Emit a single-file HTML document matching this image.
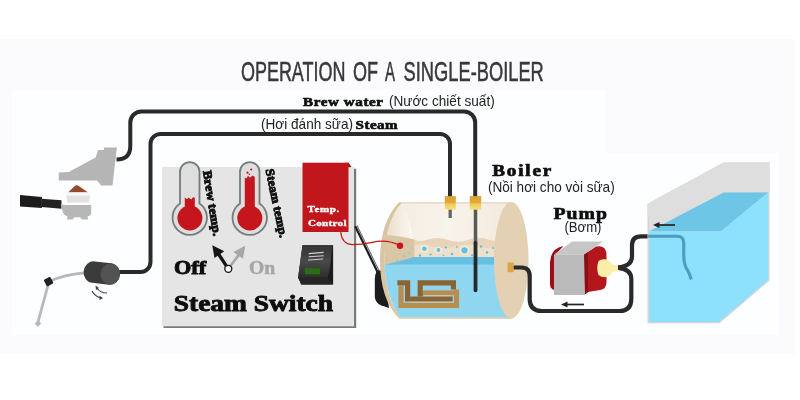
<!DOCTYPE html>
<html><head><meta charset="utf-8">
<style>
html,body{margin:0;padding:0;background:#fff;}
body{width:800px;height:400px;overflow:hidden;font-family:"Liberation Sans",sans-serif;}
svg{display:block;will-change:transform;}
.sf{font-family:"Liberation Serif",serif;font-weight:bold;}
.ss{font-family:"Liberation Sans",sans-serif;}
.hv{stroke:#111;stroke-width:0.65;paint-order:stroke;}
.hv2{stroke:#111;stroke-width:0.9;paint-order:stroke;}
</style></head><body>
<svg width="800" height="400" viewBox="0 0 800 400">
<defs><linearGradient id="rockg" x1="0" x2="0" y1="0" y2="1"><stop offset="0" stop-color="#343434"/><stop offset="0.5" stop-color="#484848"/><stop offset="1" stop-color="#2e2e2e"/></linearGradient><filter id="soft" x="0" y="0" width="800" height="400" filterUnits="userSpaceOnUse"><feGaussianBlur stdDeviation="0.35"/></filter></defs>
<!-- backgrounds -->
<rect x="0" y="0" width="800" height="400" fill="#ffffff"/>
<rect x="0" y="39" width="795" height="314.5" fill="#fbfbfe"/>
<rect x="12" y="90" width="593" height="245" fill="#fdfeff"/>
<rect x="604" y="153.5" width="175" height="181.5" fill="#fdfeff"/>

<g filter="url(#soft)">
<!-- title -->
<g class="ss" font-size="27.4" fill="#38383c" stroke="#38383c" stroke-width="0.55">
<text x="241" y="81.3" textLength="104.4" lengthAdjust="spacingAndGlyphs">OPERATION</text>
<text x="353" y="81.3" textLength="25" lengthAdjust="spacingAndGlyphs">OF</text>
<text x="385" y="81.3" textLength="10" lengthAdjust="spacingAndGlyphs">A</text>
<text x="403.6" y="81.3" textLength="140.2" lengthAdjust="spacingAndGlyphs">SINGLE-BOILER</text>
</g>

<!-- pipes top -->
<g fill="none" stroke="#2c2c2c" stroke-width="4" stroke-linecap="butt">
<path d="M116.500 159.500 Q130.300 159.500 130.300 146 L130.300 122.500 A11 11 0 0 1 141.300 111.500 L464.200 111.500 A11 11 0 0 1 475.200 122.500 L475.200 197"/>
<path d="M119 272 L140.500 272 A10 10 0 0 0 150.500 262 L150.500 144 A10 10 0 0 1 160.500 134 L440 134 A10 10 0 0 1 450 144 L450 197"/>
</g>

<!-- labels -->
<text transform="translate(303 105.6) scale(1.16 1)" class="sf hv" font-size="13" fill="#111" textLength="69" lengthAdjust="spacing">Brew water</text>
<text x="389" y="105.800" class="ss" font-size="14.600" fill="#222" textLength="105.700" lengthAdjust="spacingAndGlyphs">(Nước chiết suất)</text>
<text x="261" y="129.200" class="ss" font-size="14.600" fill="#222" textLength="92" lengthAdjust="spacingAndGlyphs">(Hơi đánh sữa)</text>
<text transform="translate(355.6 129) scale(1.16 1)" class="sf hv" font-size="13" fill="#111" textLength="36.200" lengthAdjust="spacing">Steam</text>
<text transform="translate(492.2 176.4) scale(1.18 1)" class="sf hv" font-size="16.200" fill="#111" textLength="50.100" lengthAdjust="spacing">Boiler</text>
<text x="487.900" y="192" class="ss" font-size="14.600" fill="#222" textLength="126.800" lengthAdjust="spacingAndGlyphs">(Nồi hơi cho vòi sữa)</text>
<text transform="translate(553.5 218.5) scale(1.16 1)" class="sf hv" font-size="17" fill="#111" textLength="46" lengthAdjust="spacing">Pump</text>
<text x="564.400" y="231.500" class="ss" font-size="14.600" fill="#222" textLength="37.100" lengthAdjust="spacingAndGlyphs">(Bơm)</text>

<!-- group head -->
<polygon points="104,147.500 116.900,147.500 112.500,185.600 101.250,185.600 96.900,180.600 58.750,180.600 58.750,172.500 68.750,171.900 95.600,157.500 98.100,150 104,150" fill="#b5b5b5"/>
<!-- coffee -->
<path d="M68.100 192.400 L75 185.800 Q76.250 184.800 78 185.500 L88.100 192.400 Z" fill="#94482a"/>
<!-- basket -->
<polygon points="66.250,192.300 90,192.300 90,196 66.250,196" fill="#f6f6f6"/>
<polygon points="66.250,195.800 90,195.800 89,202.500 67.250,202.500" fill="#e2e2e2"/>
<!-- portafilter -->
<polygon points="20,195 41.900,197 41.900,208 20,206.600" fill="#1d1d1d"/>
<polygon points="41.500,198.700 61.500,200.200 61.500,208.800 41.500,206.900" fill="#242424"/>
<path d="M60.600 203.800 L64 205 L91.200 205 L91.200 214 Q90 216 87.500 216.500 L88.200 219.400 L82 219.400 L80 217.300 L74.500 217.300 L72.500 219.400 L66.900 219.400 L67.500 216.500 Q63.500 215 62.500 211 Z" fill="#b7b7b7"/>

<!-- steam wand -->
<path d="M84 272.800 Q64 274.500 49 281.600 L38 322" fill="none" stroke="#b8b8b8" stroke-width="2.800"/>
<rect x="44.900" y="277.900" width="7.400" height="7.400" rx="1" fill="#222" transform="rotate(-28 48.600 281.600)"/>
<rect x="35.700" y="321.300" width="4.600" height="4.600" fill="#b8b8b8" transform="rotate(45 38 323.600)"/>
<!-- knob -->
<g transform="translate(0 1.3) rotate(6.500 102 272)">
<rect x="83.500" y="261" width="36.500" height="21.600" rx="10" ry="10.800" fill="#3a3a3a"/>
<ellipse cx="110.300" cy="271.800" rx="9.700" ry="10.600" fill="#525252"/>
</g>
<!-- rotation arrows -->
<g fill="none" stroke="#444" stroke-width="1.200">
<path d="M96.500 287.500 Q100 293 107 293"/>
<path d="M92 291 Q95 296.500 101 297.800"/>
</g>
<polygon points="95.500,285.500 99,288 96,290" fill="#444"/>
<polygon points="103,298 99.500,300 99.500,295.800" fill="#444"/>

<!-- panel -->
<rect x="163.500" y="168.700" width="192.700" height="159.300" fill="#7a7a7a"/>
<rect x="162" y="167" width="192" height="159.300" fill="#e5e5e5"/>

<!-- thermometers -->
<g id="th1">
<path d="M180 171.800 A9.750 9.750 0 0 1 199.500 171.800 L199.500 203.600 A17.200 17.200 0 1 1 180 203.600 Z" fill="#dedede" stroke="#737c7c" stroke-width="1.800"/>
<circle cx="189.900" cy="218" r="12.500" fill="#c4161c"/>
<path d="M184.800 208 L184.800 197.500 L187 199.200 L188.500 197.500 L191 199.500 L193.500 197 L194.800 198 L194.800 208 Z" fill="#c4161c"/>
</g>
<g id="th2">
<path d="M240 171.800 A9.750 9.750 0 0 1 259.500 171.800 L259.500 203.600 A17.200 17.200 0 1 1 240 203.600 Z" fill="#dedede" stroke="#737c7c" stroke-width="1.800"/>
<circle cx="249.800" cy="218" r="12.500" fill="#c4161c"/>
<path d="M244.800 208 L244.800 177.500 L246.500 178.500 L248 175.800 L250 177.800 L252.500 175.500 L254.800 177 L254.800 208 Z" fill="#c4161c"/>
<circle cx="247.500" cy="172.700" r="1.100" fill="#c4161c"/>
<circle cx="251.200" cy="169.500" r="1.100" fill="#c4161c"/>
<circle cx="249.300" cy="174.300" r="0.800" fill="#c4161c"/>
</g>
<text class="sf hv2" font-size="12.300" fill="#111" transform="translate(202.900 171.300) rotate(80.800)" textLength="66" lengthAdjust="spacingAndGlyphs">Brew temp.</text>
<text class="sf hv2" font-size="12.300" fill="#111" transform="translate(265.500 169.800) rotate(78.200)" textLength="70" lengthAdjust="spacingAndGlyphs">Steam temp.</text>

<!-- temp control -->
<polygon points="344.500,162.750 348.500,162.750 351.500,167 348.500,167.200" fill="#8f1015"/>
<rect x="302.500" y="162.750" width="46" height="69.250" fill="#c1161b"/>
<text transform="translate(307.5 212.3) scale(1.3 1)" class="sf" font-size="8.500" fill="#fff" stroke="#fff" stroke-width="0.350" textLength="24.500" lengthAdjust="spacing">Temp.</text>
<text transform="translate(308 225.600) scale(1.3 1)" class="sf" font-size="8.500" fill="#fff" stroke="#fff" stroke-width="0.350" textLength="29.600" lengthAdjust="spacing">Control</text>

<!-- switch arrows -->
<line x1="228.300" y1="268.800" x2="239.500" y2="254" stroke="#a8a8a8" stroke-width="2.700"/>
<polygon points="245.250,245.700 233.250,252 243,258.750" fill="#a8a8a8"/>
<line x1="228.300" y1="268.800" x2="218.500" y2="254" stroke="#151515" stroke-width="3.300"/>
<polygon points="212.250,245.250 214.500,258 224.250,251.250" fill="#151515"/>
<circle cx="228.300" cy="268.800" r="3.500" fill="#fff" stroke="#151515" stroke-width="1.300"/>
<text x="174" y="273.800" class="sf hv2" font-size="18.500" fill="#111" textLength="32.200" lengthAdjust="spacingAndGlyphs">Off</text>
<text x="249" y="273.800" class="sf" font-size="18.500" fill="#a6a6a6" stroke="#a6a6a6" stroke-width="0.500" textLength="26.200" lengthAdjust="spacingAndGlyphs">On</text>
<text x="173.750" y="311.250" class="sf hv2" font-size="23.800" fill="#111" textLength="159.300" lengthAdjust="spacingAndGlyphs">Steam Switch</text>

<!-- rocker switch -->
<polygon points="302.500,245.250 333.100,245.250 333.100,284.400 301.250,284.400 298.100,277.500" fill="#1d1d1d"/>
<path d="M302.500 245.250 L333.100 245.250 L331.600 250 Q330.800 268 327.500 277.500 L298.100 277.500 Z" fill="url(#rockg)"/>
<polygon points="298.100,277.500 327.500,277.500 333.100,284.400 301.250,284.400" fill="#272727"/>
<rect x="305" y="268.100" width="15" height="6.300" fill="#2b6d14"/>
<g stroke="#cfcfcf" stroke-width="1.100">
<line x1="308.750" y1="253.600" x2="323.750" y2="252.400"/>
<line x1="308.750" y1="256.800" x2="323.750" y2="255.800"/>
<line x1="308.200" y1="260" x2="323.200" y2="259"/>
</g>

<!-- probe -->
<line x1="355.200" y1="226.200" x2="378" y2="273" stroke="#1e1e1e" stroke-width="2.200"/><line x1="357" y1="225.600" x2="379.800" y2="272.300" stroke="#6d6d6d" stroke-width="1.100"/>
<path d="M377 270.500 Q374.800 274 374.800 280 L374.800 297 Q375.500 303 381 305.300 L389 308 L386 285 L381 270.500 Z" fill="#1c1c1c"/>

<!-- boiler -->
<defs>
<linearGradient id="fitg" x1="0" x2="0" y1="0" y2="1"><stop offset="0" stop-color="#dba034"/><stop offset="0.45" stop-color="#e0a838"/><stop offset="0.6" stop-color="#f0cc50"/><stop offset="1" stop-color="#f5e088"/></linearGradient>
<linearGradient id="capg" x1="0" x2="1" y1="0" y2="0"><stop offset="0" stop-color="#eadcc5"/><stop offset="0.55" stop-color="#f4ede2"/><stop offset="1" stop-color="#fcfaf6"/></linearGradient>
<linearGradient id="bodyg" x1="0" x2="1" y1="0" y2="0"><stop offset="0" stop-color="#f3ebde"/><stop offset="0.5" stop-color="#f8f3eb"/><stop offset="1" stop-color="#f3eadc"/></linearGradient>
</defs>
<g id="boiler">
<path d="M399 202.200 L511.500 202.200 L511.500 318.700 L399.500 318.700 Q380 300 380 260 Q380 222 399 202.200 Z" fill="#d9c5a4"/>
<path d="M401.500 203.300 L511.500 203.300 L511.500 317.300 L400.500 317.300 Q385 298 384.500 260 Q385 222 401.500 203.300 Z" fill="url(#bodyg)"/>
<path d="M401.500 203.300 Q385 222 384.500 260 L414.500 260 Q414 225 401.500 203.300 Z" fill="url(#capg)"/>
<rect x="401" y="202.200" width="110.500" height="1.600" fill="#ece2d2"/>
<!-- froth body -->
<path d="M414 239.500 Q420 242.500 428 239.500 Q438 236.300 448 239.800 Q458 243.500 468 240 Q478 236.500 488 239.500 Q494 241.500 497 240.500 L511.500 240.500 L511.500 262 L414 262 Z" fill="#e8d5b9"/>
<path d="M414 246 Q422 243 432 246.500 Q444 250 456 246 Q466 243 478 246.500 Q490 250 500 246 L511.500 245 L511.500 262 L414 262 Z" fill="#eedfc8"/>
<!-- froth cap -->
<path d="M384.800 235 Q400 235.500 414.300 239.500 L414.300 262 L384.500 266 Z" fill="#dac6a5"/>
<!-- water -->
<path d="M384.600 264.500 L511.500 264.500 L511.500 317.300 L400.500 317.300 Q386 298 384.600 264.500 Z" fill="#8fd6f1"/>
<polygon points="384.600,264.800 400,261 414,257 511.500,257 511.500,264.800" fill="#66c0e4"/>
<!-- bubbles -->
<g fill="#f5ebda">
<circle cx="424.400" cy="248.700" r="3.900"/><circle cx="438.500" cy="250" r="3.300"/><circle cx="464.500" cy="250.300" r="4.600"/><circle cx="487" cy="252.500" r="2.400"/>
</g>
<g fill="#5fc0e6">
<circle cx="424.400" cy="248.700" r="2.300"/><circle cx="420" cy="255.500" r="1.200"/><circle cx="430.500" cy="254.500" r="1.100"/>
<circle cx="438.500" cy="250" r="1.900"/><circle cx="446" cy="247.500" r="1.100"/><circle cx="452" cy="254" r="1.300"/>
<circle cx="464.500" cy="250.300" r="3.100"/><circle cx="481" cy="246.500" r="1.200"/><circle cx="487" cy="252.500" r="1.400"/>
<circle cx="493" cy="248" r="1"/><circle cx="472" cy="255.300" r="1.100"/><circle cx="457" cy="247" r="0.900"/>
<circle cx="443.500" cy="255.300" r="0.900"/><circle cx="498" cy="254.500" r="1"/>
</g>
<g fill="#8cc9dc">
<circle cx="404" cy="256" r="1.200"/><circle cx="409" cy="253" r="1"/><circle cx="397" cy="260.500" r="1.100"/><circle cx="412" cy="248" r="0.800"/>
</g>
<!-- right end -->
<ellipse cx="511.250" cy="260.300" rx="17.250" ry="58.200" fill="#e4d1b4"/>
<!-- heating element -->
<g fill="none" stroke-linejoin="miter">
<path d="M401 286 L401 305.300 L456.500 305.300 L456.500 289.400" stroke="#b98d4f" stroke-width="5.200"/>
<path d="M422.800 292.800 L454 292.800" stroke="#b98d4f" stroke-width="4.800"/>
<path d="M397.400 282.900 L407.600 282.900 L407.600 299 L452.600 299" stroke="#8c6331" stroke-width="5.200"/>
<path d="M420.200 296.500 L420.200 282.900 L453.400 282.900 L453.400 289.400" stroke="#8c6331" stroke-width="5.200"/>
<path d="M424 295.700 L451 295.700" stroke="#d9c9a0" stroke-width="0.800"/>
<path d="M410.500 302.300 L453 302.300" stroke="#d9c9a0" stroke-width="0.800"/>
</g>
</g>
<!-- inner pipes -->
<line x1="450.200" y1="208" x2="450.200" y2="218" stroke="#666" stroke-width="3.300"/>
<line x1="475.500" y1="208" x2="475.500" y2="244" stroke="#5a5a5a" stroke-width="3.500"/>
<line x1="475.500" y1="243" x2="475.500" y2="290.300" stroke="#252b2e" stroke-width="3.800" stroke-linecap="round"/>
<!-- fittings -->
<g>
<rect x="444.800" y="196.100" width="11" height="13.600" fill="url(#fitg)"/>
<rect x="469.800" y="196.100" width="11.400" height="13.600" fill="url(#fitg)"/>
<rect x="507.500" y="262.500" width="6.200" height="9.700" fill="#dba544"/>
</g>
<!-- red wire -->
<path d="M340.700 232 Q342 244 352 244.700 Q362 244.700 372 242.300 Q388 239 400 245.700" fill="none" stroke="#c4161c" stroke-width="1.200"/>
<circle cx="400" cy="245.700" r="3.200" fill="#c4161c"/>

<!-- pipes right -->
<g fill="none" stroke="#2c2c2c" stroke-width="4.200">
<path d="M513.700 267.500 L521.500 267.500 Q529.700 267.500 529.700 276 L529.700 299 Q529.700 311 541.700 311 L619.500 311 Q631.300 311 631.300 299 L631.300 279 Q631.300 269 618 267.800"/>
<path d="M618 267.300 Q632 266.500 632 256 L632 245.300 Q632 236.300 641 236.300 L648 236.300"/>
</g>

<!-- pump -->
<path d="M563.500 246 Q551 248 550 262 L550 284 Q550 290 556 290 L556 254 Z" fill="#9c1116"/>
<path d="M584 254.500 L596 246.500 Q603.500 245.500 605.500 250 Q606.500 252 606.500 256 L606.500 282 Q606.500 289 600 290 L588 292 L584 295 Z" fill="#b3161b"/>
<polygon points="584,254.500 588,251.800 588,292 584,295" fill="#8c0f13"/>
<polygon points="554,254.500 572,241.500 603,241.500 584,254.500" fill="#c6c6c6"/>
<polygon points="554,254.500 584,254.500 585,295 554,295" fill="#bababa"/>
<path d="M598.500 261 Q601 258.800 605 259.200 Q611 260.500 612.500 264.800 L617.500 265.200 L617.500 271.300 L612.500 271.800 Q611 276.500 605 277.300 Q601 277.300 598.500 275 Q596 268 598.500 261 Z" fill="#fbeea8"/>
<!-- arrows -->
<g stroke="#222" stroke-width="1.700" fill="#222">
<line x1="584" y1="304.500" x2="565" y2="304.500"/>
<polygon points="561,304.500 567.500,301.500 567.500,307.500" stroke="none"/>
</g>

<!-- tank -->
<polygon points="647.500,203.750 723.750,162.500 769.500,162.500 769.500,280.500 719.500,323.300 647.500,323.300" fill="#d4d4d4"/>
<polygon points="647.500,203.750 723.750,162.500 769.500,162.500 769.500,192.500 723.750,192.500 649.500,232" fill="#dedede"/>
<polygon points="723.750,192.500 768.200,192.500 721,231.300 649.300,231.300" fill="#6ec6e6"/>
<polygon points="649.300,231.300 721,231.300 768.200,192.500 768.200,279.800 718.800,322 649.300,322" fill="#8ee1fd"/>
<path d="M648 236.300 L677 236.300 Q683.750 236.300 683.750 243 L683.750 256 Q684 266 688 271 Q690 275 691.200 279.500" fill="none" stroke="#4f9dbe" stroke-width="3.100"/>
<g stroke="#222" stroke-width="1.700" fill="#222">
<line x1="675" y1="225" x2="657" y2="225"/>
<polygon points="653,225 659.500,222 659.500,228" stroke="none"/>
</g>
</g>
</svg>
</body></html>
